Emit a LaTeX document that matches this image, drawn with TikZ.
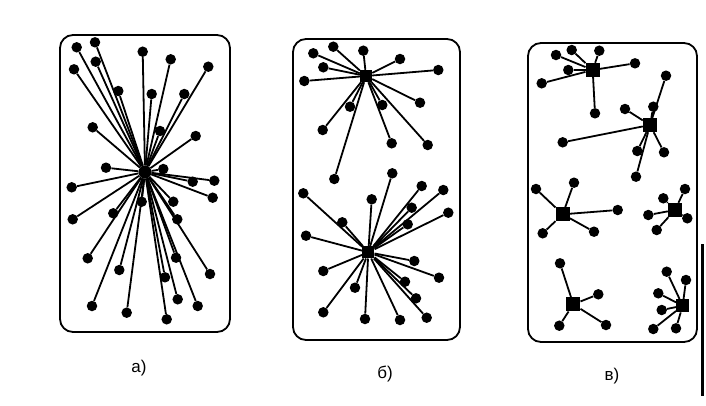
\documentclass[tikz,border=0pt]{standalone}
\usepackage{fontspec}
\setmainfont{Liberation Sans}
\begin{document}
\begin{tikzpicture}[x=1pt,y=-1pt,
  leaf/.style={circle,fill=black,inner sep=0pt,minimum size=10.5pt},
  hubsq/.style={rectangle,fill=black,inner sep=0pt,minimum size=12pt},
  hubc/.style={circle,fill=black,inner sep=0pt,minimum size=13pt},
  edge/.style={line width=1.8pt},
  panel/.style={line width=1.8pt,rounded corners=13pt},
  lbl/.style={font=\fontsize{17}{19}\selectfont,inner sep=0pt}]
\useasboundingbox (0,0) rectangle (706,405);
% panels
\draw[panel] (60,35) rectangle (230,332);
\draw[panel] (293,39) rectangle (460,340);
\draw[panel] (528,43) rectangle (697,342);
% panel a
\node[hubc] (ha) at (145,172) {};
\foreach \i/\x/\y in {1/76.7/47.3,2/95/42.3,3/74/69.3,4/95.7/61.7,5/118.3/91,6/142.7/51.7,7/170.7/59.3,8/208.3/66.7,9/151.7/94,10/184.3/94,11/160/131,12/195.7/136,13/92.7/127.3,14/106/167.7,15/163.3/169,16/192.7/181.7,17/214.3/180.7,18/212.7/197.7,19/71.7/187.3,20/173.3/201.7,21/141.7/201.7,22/113.3/213.3,23/72.7/219.3,24/177.3/219.3,25/87.7/258.3,26/119.3/270,27/176/257.7,28/210/274,29/165/277.3,30/177.7/299.3,31/197.7/306,32/92/306,33/126.7/312.7,34/166.7/319.3}
{ \node[leaf] (a\i) at (\x,\y) {}; \draw[edge] (ha) -- (a\i); }
% panel b, upper star
\node[hubsq] (hb1) at (366,76) {};
\foreach \i/\x/\y in {1/313.3/53.3,2/333.3/46.7,3/363.3/50.7,4/400/59,5/438.3/70,6/323.3/67.3,7/304.3/81,8/420/102.7,9/382.3/105,10/350/106.7,11/322.7/130,12/391.7/143.3,13/427.7/145,14/334.3/179}
{ \node[leaf] (b\i) at (\x,\y) {}; \draw[edge] (hb1) -- (b\i); }
% panel b, lower star
\node[hubsq] (hb2) at (368.3,252.3) {};
\foreach \i/\x/\y in {1/303.3/193.3,2/342.3/222.3,3/306/235.7,4/371.7/199.3,5/392.3/173.3,6/421.7/186,7/443.3/190,8/411.7/207.7,9/448.3/212.7,10/407.7/224.3,11/414.3/261,12/439/277.7,13/323.3/271,14/405/281.7,15/355/287.7,16/416/298.3,17/323.3/312.3,18/365/319,19/400/320,20/426.7/317.7}
{ \node[leaf] (c\i) at (\x,\y) {}; \draw[edge] (hb2) -- (c\i); }
% panel v
\node[hubsq,minimum size=14pt] (hA) at (592.7,70) {};
\foreach \i/\x/\y in {1/556/55,2/571.7/50,3/599.3/50.7,4/635/63.3,5/568.3/70,6/541.7/83.3,7/595/113.3}
{ \node[leaf] (dA\i) at (\x,\y) {}; \draw[edge] (hA) -- (dA\i); }
\node[hubsq,minimum size=14pt] (hB) at (650,125) {};
\foreach \i/\x/\y in {1/666/75.7,2/625/109,3/653.3/106.7,4/562.7/142.3,5/637.3/151,6/664/152.3,7/636/176.7}
{ \node[leaf] (dB\i) at (\x,\y) {}; \draw[edge] (hB) -- (dB\i); }
\node[hubsq,minimum size=14pt] (hC) at (562.7,214.3) {};
\foreach \i/\x/\y in {1/536/189,2/574/182.7,3/617.7/210,4/542.7/233.3,5/594/231.7}
{ \node[leaf] (dC\i) at (\x,\y) {}; \draw[edge] (hC) -- (dC\i); }
\node[hubsq,minimum size=14pt] (hD) at (675,210) {};
\foreach \i/\x/\y in {1/663.3/198.3,2/685/189,3/648.3/215,4/687.3/218.3,5/656.7/230}
{ \node[leaf] (dD\i) at (\x,\y) {}; \draw[edge] (hD) -- (dD\i); }
\node[hubsq,minimum size=14pt] (hE) at (573.3,304.3) {};
\foreach \i/\x/\y in {1/560/263.3,2/598.3/294.3,3/559.3/325.7,4/606/325}
{ \node[leaf] (dE\i) at (\x,\y) {}; \draw[edge] (hE) -- (dE\i); }
\node[hubsq,minimum size=13pt] (hF) at (682.7,305.7) {};
\foreach \i/\x/\y in {1/666.7/271.7,2/686/280,3/658.3/293.3,4/661.7/310,5/653.3/329,6/676/328.3}
{ \node[leaf] (dF\i) at (\x,\y) {}; \draw[edge] (hF) -- (dF\i); }
% labels
\node[lbl] (la) at (139,368) {а)};
\node[lbl] (lb) at (385,374) {б)};
\node[lbl] (lv) at (612,376) {в)};
% scan bar at right
\coordinate (bar1) at (702.5,244);
\coordinate (bar2) at (702.5,396);
\draw[line width=3pt] (bar1) -- (bar2);
\end{tikzpicture}
\end{document}
